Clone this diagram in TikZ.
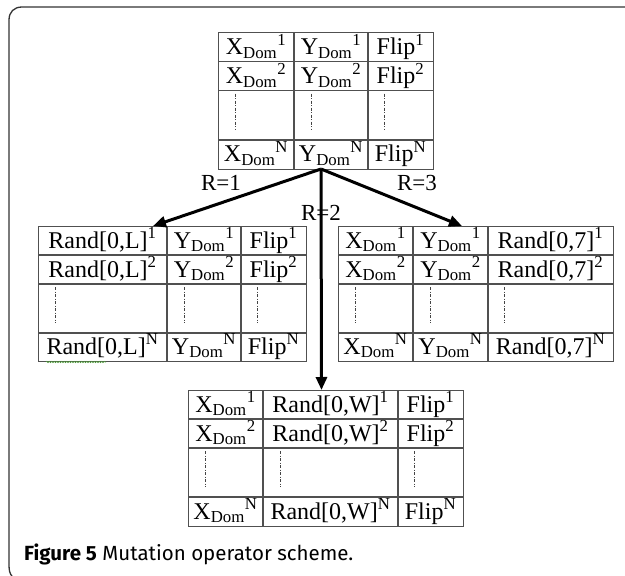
\documentclass[tikz,border=0pt]{standalone}
\usepackage{fontspec}
\setmainfont{Liberation Serif}
\newfontfamily\capfont{Fira Sans}
\usetikzlibrary{arrows.meta,decorations.pathmorphing}
\definecolor{tblgray}{HTML}{505050}
\definecolor{dotgray}{HTML}{444444}
\definecolor{framegray}{HTML}{333333}
\definecolor{spellgreen}{HTML}{4E9A3A}
\newcommand\cellfont{\fontsize{24}{28}\selectfont}
\newcommand\XD[1]{X\textsubscript{Dom}\textsuperscript{#1}}
\newcommand\YD[1]{Y\textsubscript{Dom}\textsuperscript{#1}}
\newcommand\FL[1]{Flip\textsuperscript{#1}}
\newcommand\RD[2]{Rand[0,#1]\textsuperscript{#2}}
\newcommand\tablegrid[9]{%
  \draw[tblline] (#1,#6) -- (#4,#6) (#1,#7) -- (#4,#7) (#1,#8) -- (#4,#8);
  \draw[tblline] (#2,#5) -- (#2,#9) (#3,#5) -- (#3,#9);
  \draw[dotline] ({#1+17},{#7+3}) -- ({#1+17},{#8-10});
  \draw[dotline] ({#2+17},{#7+3}) -- ({#2+17},{#8-10});
  \draw[dotline] ({#3+16},{#7+3}) -- ({#3+16},{#8-10});
}
\begin{document}
\begin{tikzpicture}[x=1pt,y=-1pt,
  tblbox/.style={draw=tblgray,line width=1.1pt,rectangle,inner sep=0,anchor=north west},
  tblline/.style={draw=tblgray,line width=1.1pt},
  dotline/.style={draw=dotgray,line width=0.9pt,dash pattern=on 3pt off 1.5pt on 1pt off 1.5pt},
  cell/.style={anchor=base,inner sep=0,font=\cellfont},
  lbl/.style={anchor=base,inner sep=0,font=\fontsize{23}{27}\selectfont},
  arr/.style={line width=3pt,-{Triangle[length=13pt,width=11pt]}},
  frame/.style={draw=framegray,line width=1.3pt}]
\useasboundingbox (0,0) rectangle (625,576);
% frame
\draw[frame] (625,7) -- (22,7) .. controls (14,7) and (9,12) .. (9,20) -- (9,565) .. controls (9,571) and (10,574) .. (12,576);

% top table
\node[tblbox,minimum width=215pt,minimum height=137pt] (ttop) at (218,32) {};
\tablegrid{218}{294}{368}{433}{32}{61.5}{90.5}{140}{169}
\node[cell] (t11) at (256,54.5) {\XD{1}};
\node[cell] (t12) at (331,54.5) {\YD{1}};
\node[cell] (t13) at (400.5,54.5) {\FL{1}};
\node[cell] (t21) at (256,83.5) {\XD{2}};
\node[cell] (t22) at (331,83.5) {\YD{2}};
\node[cell] (t23) at (400.5,83.5) {\FL{2}};
\node[cell] (t31) at (256,161.5) {\XD{N}};
\node[cell] (t32) at (331,161.5) {\YD{N}};
\node[cell] (t33) at (400.5,161.5) {\FL{N}};

% left table
\node[tblbox,minimum width=268pt,minimum height=135pt] (tleft) at (38,226) {};
\tablegrid{38}{167}{241}{306}{226}{255}{284}{333}{361}
\node[cell] (l11) at (102.5,248) {\RD{L}{1}};
\node[cell] (l12) at (204,248) {\YD{1}};
\node[cell] (l13) at (273.5,248) {\FL{1}};
\node[cell] (l21) at (102.5,277) {\RD{L}{2}};
\node[cell] (l22) at (204,277) {\YD{2}};
\node[cell] (l23) at (273.5,277) {\FL{2}};
\node[cell] (l31) at (102.5,354) {\RD{L}{N}};
\node[cell] (l32) at (204,354) {\YD{N}};
\node[cell] (l33) at (273.5,354) {\FL{N}};
\draw[spellgreen,line width=0.6pt,decorate,decoration={snake,amplitude=0.7pt,segment length=2.5pt}] (46,362) -- (106,362);

% right table
\node[tblbox,minimum width=275pt,minimum height=135pt] (tright) at (338,226) {};
\tablegrid{338}{413}{488}{613}{226}{255}{284}{333}{361}
\node[cell] (r11) at (375.5,248) {\XD{1}};
\node[cell] (r12) at (450.5,248) {\YD{1}};
\node[cell] (r13) at (550.5,248) {\RD{7}{1}};
\node[cell] (r21) at (375.5,277) {\XD{2}};
\node[cell] (r22) at (450.5,277) {\YD{2}};
\node[cell] (r23) at (550.5,277) {\RD{7}{2}};
\node[cell] (r31) at (375.5,354) {\XD{N}};
\node[cell] (r32) at (450.5,354) {\YD{N}};
\node[cell] (r33) at (550.5,354) {\RD{7}{N}};

% bottom table
\node[tblbox,minimum width=275pt,minimum height=136pt] (tbot) at (188,390) {};
\tablegrid{188}{263}{398}{463}{390}{419}{448}{497}{526}
\node[cell] (b11) at (225.5,412) {\XD{1}};
\node[cell] (b12) at (330.5,412) {\RD{W}{1}};
\node[cell] (b13) at (430.5,412) {\FL{1}};
\node[cell] (b21) at (225.5,441) {\XD{2}};
\node[cell] (b22) at (330.5,441) {\RD{W}{2}};
\node[cell] (b23) at (430.5,441) {\FL{2}};
\node[cell] (b31) at (225.5,519) {\XD{N}};
\node[cell] (b32) at (330.5,519) {\RD{W}{N}};
\node[cell] (b33) at (430.5,519) {\FL{N}};

% labels
\node[lbl] (r1) at (221,190) {R=1};
\node[lbl] (r2) at (321,220) {R=2};
\node[lbl] (r3) at (417,190) {R=3};

% arrows
\coordinate (src) at (321,169);
\coordinate (lt) at (153,226);
\coordinate (rt) at (462,226);
\coordinate (bt) at (321.5,390);
\draw[arr] (src) -- (lt);
\draw[arr] (src) -- (rt);
\draw[arr] (src) -- (bt);

% caption
\node[anchor=base west,inner sep=0,font=\capfont\fontsize{20.5}{24}\selectfont] (cap) at (24,560) {\textbf{Figure 5} Mutation operator scheme.};
\end{tikzpicture}
\end{document}
